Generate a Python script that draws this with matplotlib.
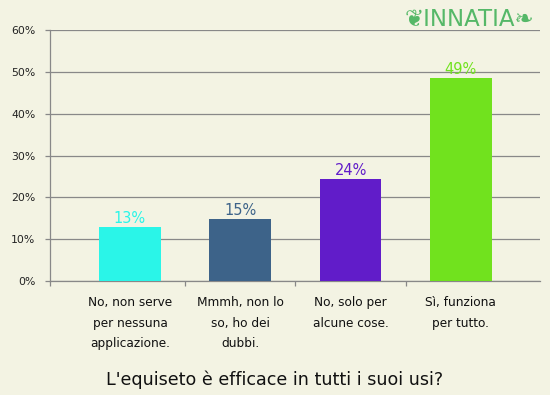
import matplotlib
matplotlib.use("Agg")
import matplotlib.pyplot as plt
from matplotlib.ticker import FixedLocator

categories = ["No, non serve\nper nessuna\napplicazione.",
              "Mmmh, non lo\nso, ho dei\ndubbi.",
              "No, solo per\nalcune cose.",
              "Sì, funziona\nper tutto."]
values = [12.9, 14.8, 24.3, 48.5]
value_labels = ["13%", "15%", "24%", "49%"]
colors = ["#2AF5E8", "#3D6389", "#611CC9", "#71E21E"]
yticks = [0, 10, 20, 30, 40, 50, 60]
ytick_labels = ["0%", "10%", "20%", "30%", "40%", "50%", "60%"]
title = "L'equiseto è efficace in tutti i suoi usi?"

bg = "#F3F3E3"
grid_c = "#888888"
fig = plt.figure(figsize=(5.5, 3.95), dpi=100, facecolor=bg)
ax = fig.add_axes([50/550, 1-281/395, 490/550, 251/395], facecolor=bg)

x = list(range(len(values)))
ax.bar(x, values, width=0.56, color=colors, zorder=3)
for xi, v, lab, c in zip(x, values, value_labels, colors):
    ax.text(xi, v + 0.3, lab, ha="center", va="bottom", color=c, fontsize=10.5, zorder=4)

ax.set_xlim(-0.725, 3.717)
ax.set_ylim(0, 60)
ax.set_yticks(yticks)
ax.set_yticklabels(ytick_labels, fontsize=7.8, color="#222222")
ax.yaxis.grid(True, color=grid_c, linewidth=0.9, zorder=1)
ax.set_axisbelow(True)

ax.set_xticks(x)
ax.set_xticklabels(categories, fontsize=8.7, color="#111111", linespacing=1.73)
ax.tick_params(axis="x", length=0, pad=11)
ax.xaxis.set_minor_locator(FixedLocator([-0.725, 0.5, 1.5, 2.5]))
ax.tick_params(axis="x", which="minor", length=3.6, color=grid_c, width=0.9)
ax.tick_params(axis="y", length=3.6, color=grid_c, width=0.9, pad=7)

for s in ["top", "right"]:
    ax.spines[s].set_visible(False)
for s in ["left", "bottom"]:
    ax.spines[s].set_color(grid_c)
    ax.spines[s].set_linewidth(0.9)

fig.text(0.5, 1-380/395, title, ha="center", va="center", fontsize=12.6, color="#111111")

# Logo
fig.text(469/550, 1-19/395, "\u2766INNATIA\u2767", ha="center", va="center",
         fontsize=16.5, color="#55B868", family=["DejaVu Sans", "DejaVu Serif"])

fig.savefig("out.png", dpi=100, facecolor=bg)
